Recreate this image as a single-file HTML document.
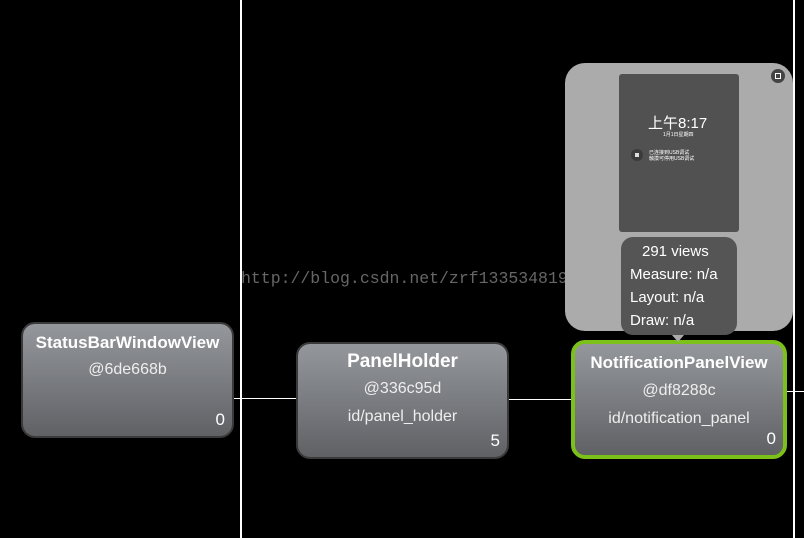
<!DOCTYPE html>
<html><head><meta charset="utf-8"><style>
body{margin:0;width:804px;height:538px;background:#000;position:relative;overflow:hidden;font-family:"Liberation Sans","Noto Sans CJK SC",sans-serif;}
.a{position:absolute}
.node{position:absolute;box-sizing:border-box;border:2px solid #3a3a3a;border-radius:14px;background:linear-gradient(#94979b,#5f6165);color:#fff;text-align:center;}
.node .t{font-weight:bold;font-size:17px;}
.node .s{font-size:16px;color:#eee}
.node .n{position:absolute;right:7px;bottom:6px;font-size:17px}
</style></head><body>
<div class="a" style="left:240px;top:0;width:2px;height:538px;background:#fff"></div>
<div class="a" style="left:793px;top:0;width:2px;height:538px;background:#fff"></div>
<div class="a" style="left:233px;top:398px;width:63px;height:1px;background:#fff"></div>
<div class="a" style="left:508px;top:399px;width:64px;height:1px;background:#fff"></div>
<div class="a" style="left:786px;top:391px;width:18px;height:1px;background:#fff"></div>
<div class="a" style="left:241px;top:269px;font-family:'Liberation Mono',monospace;font-size:16.5px;color:#666">http://blog.csdn.net/zrf1335348191</div>

<div class="node" style="left:21px;top:322px;width:213px;height:116px"><div class="t" style="margin-top:9px">StatusBarWindowView</div><div class="s" style="margin-top:8px">@6de668b</div><div class="n">0</div></div>
<div class="node" style="left:296px;top:342px;width:213px;height:117px"><div class="t" style="margin-top:7px;font-size:19px">PanelHolder</div><div class="s" style="margin-top:7px">@336c95d</div><div class="s" style="margin-top:10px">id/panel_holder</div><div class="n">5</div></div>
<div class="node" style="left:571px;top:340px;width:216px;height:119px;border:4px solid #7cc11a"><div class="t" style="margin-top:9px">NotificationPanelView</div><div class="s" style="margin-top:9px">@df8288c</div><div class="s" style="margin-top:10px">id/notification_panel</div><div class="n">0</div></div>

<div class="a" style="left:565px;top:63px;width:228px;height:268px;background:#ababab;border-radius:20px"></div>
<div class="a" style="left:619px;top:74px;width:120px;height:158px;background:#515151;border-radius:3px;color:#fff">
<div style="position:absolute;left:29px;top:38px;font-size:15px">上午8:17</div>
<div style="position:absolute;left:44px;top:57px;font-size:5px">1月1日星期四</div>
<div style="position:absolute;left:12px;top:75px;width:12px;height:12px;border-radius:6px;background:#3b3b3b"></div>
<div style="position:absolute;left:16px;top:79px;width:4px;height:4px;background:#ddd"></div>
<div style="position:absolute;left:30px;top:76px;font-size:5px;line-height:6px">已连接到USB调试<br>触摸可停用USB调试</div>
</div>
<div class="a" style="left:771px;top:69px;width:14px;height:14px;border-radius:7px;background:#444"></div>
<div class="a" style="left:775px;top:73px;width:4px;height:4px;border:1.5px solid #fff"></div>
<div class="a" style="left:621px;top:237px;width:116px;height:98px;background:#555;border-radius:12px;color:#fff;font-size:15px;line-height:23px;box-sizing:border-box;padding:3px 0 0 9px">
<div style="margin-left:12px">291 views</div><div>Measure: n/a</div><div>Layout: n/a</div><div>Draw: n/a</div></div>
<div class="a" style="left:672px;top:335px;width:0;height:0;border-left:6px solid transparent;border-right:6px solid transparent;border-top:7px solid #aaa"></div>
</body></html>
